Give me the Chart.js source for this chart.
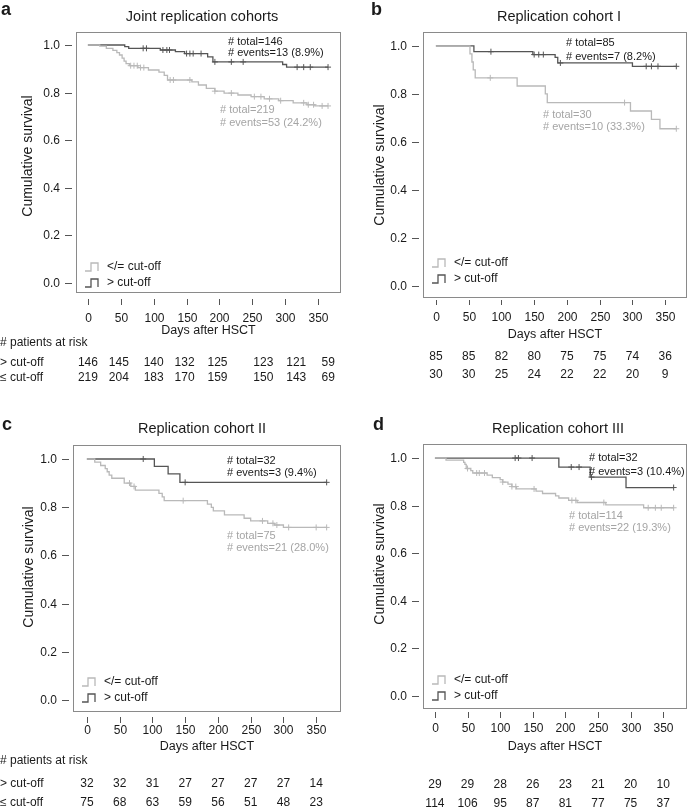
<!DOCTYPE html>
<html>
<head>
<meta charset="utf-8">
<title>Survival by cut-off</title>
<script src="https://cdn.jsdelivr.net/npm/chart.js@4.4.1/dist/chart.umd.min.js"></script>
<style>
  body { margin: 0; background: #fff; }
  #fig { position: relative; width: 692px; height: 810px; overflow: hidden; }
  #fig canvas { position: absolute; }
</style>
</head>
<body>
<div id="fig">
  <canvas id="pa"></canvas>
  <canvas id="pb"></canvas>
  <canvas id="pc"></canvas>
  <canvas id="pd"></canvas>
</div>
<script>
// ---- data ----
const dayTicks = [0, 50, 100, 150, 200, 250, 300, 350];
const survTicks = [0, 0.2, 0.4, 0.6, 0.8, 1.0];

// a: joint replication cohorts
const aHiDays = [0, 56, 62, 110, 133, 147, 182, 190, 296, 302, 365];
const aHiSurv = [1, 0.993, 0.986, 0.979, 0.972, 0.964, 0.950, 0.929, 0.918, 0.907, 0.907];
const aHiCensor = [84, 89, 114, 120, 124, 150, 155, 160, 172, 193, 218, 236, 318, 328, 338, 365];
const aLoDays = [0, 18, 28, 38, 44, 48, 52, 55, 58, 63, 76, 92, 108, 116, 121, 158, 168, 180, 193, 207, 228, 248, 268, 290, 312, 333, 345, 365];
const aLoSurv = [1, 0.995, 0.986, 0.977, 0.968, 0.958, 0.945, 0.932, 0.922, 0.913, 0.905, 0.895, 0.886, 0.872, 0.853, 0.845, 0.832, 0.818, 0.806, 0.798, 0.790, 0.783, 0.774, 0.766, 0.757, 0.749, 0.744, 0.744];
const aLoCensor = [65, 70, 75, 80, 85, 125, 130, 155, 193, 218, 253, 263, 276, 293, 328, 335, 343, 356, 365];
const aRiskHi = [146, 145, 140, 132, 125, 123, 121, 59];
const aRiskLo = [219, 204, 183, 170, 159, 150, 143, 69];

// b: replication cohort I
const bHiDays = [0, 58, 148, 182, 186, 300, 367];
const bHiSurv = [1, 0.976, 0.964, 0.952, 0.929, 0.915, 0.915];
const bHiCensor = [84, 150, 157, 164, 190, 321, 329, 339, 367];
const bLoDays = [0, 52, 55, 57, 60, 124, 167, 170, 297, 329, 342, 367];
const bLoSurv = [1, 0.967, 0.933, 0.9, 0.867, 0.833, 0.8, 0.764, 0.729, 0.694, 0.655, 0.655];
const bLoCensor = [83, 288, 367];
const bRiskHi = [85, 85, 82, 80, 75, 75, 74, 36];
const bRiskLo = [30, 30, 25, 24, 22, 22, 20, 9];

// c: replication cohort II
const cHiDays = [0, 103, 124, 142, 366];
const cHiSurv = [1, 0.969, 0.938, 0.903, 0.903];
const cHiCensor = [86, 150, 366];
const cLoDays = [0, 12, 21, 28, 31, 34, 38, 57, 67, 74, 110, 115, 118, 184, 190, 193, 210, 240, 250, 276, 286, 300, 366];
const cLoSurv = [1, 0.987, 0.973, 0.96, 0.947, 0.933, 0.92, 0.9, 0.886, 0.871, 0.857, 0.843, 0.827, 0.813, 0.799, 0.785, 0.768, 0.754, 0.743, 0.733, 0.726, 0.716, 0.716];
const cLoCensor = [65, 72, 147, 268, 284, 290, 308, 350, 366];
const cRiskHi = [32, 32, 31, 27, 27, 27, 27, 14];
const cRiskLo = [75, 68, 63, 59, 56, 51, 48, 23];

// d: replication cohort III
const dHiDays = [0, 190, 238, 293, 366];
const dHiSurv = [1, 0.962, 0.92, 0.876, 0.876];
const dHiCensor = [123, 128, 149, 209, 221, 240, 366];
const dLoDays = [0, 17, 44, 46, 48, 55, 58, 80, 88, 100, 104, 112, 118, 125, 155, 165, 185, 190, 205, 218, 262, 320, 366];
const dLoSurv = [1, 0.991, 0.982, 0.973, 0.956, 0.947, 0.937, 0.928, 0.918, 0.909, 0.899, 0.89, 0.88, 0.87, 0.861, 0.851, 0.841, 0.832, 0.822, 0.813, 0.803, 0.791, 0.791];
const dLoCensor = [50, 64, 68, 76, 104, 118, 124, 152, 210, 216, 259, 327, 338, 347, 366];
const dRiskHi = [29, 29, 28, 26, 23, 21, 20, 10];
const dRiskLo = [114, 106, 95, 87, 81, 77, 75, 37];

// ---- styling ----
const FONT = '"Liberation Sans", Arial, Helvetica, sans-serif';
const DARK = "#555555";
const LIGHT = "#b9b9b9";
const INK = "#1a1a1a";
const GREY_TXT = "#a5a5a5";

Chart.defaults.font.family = FONT;

// layout of each panel (canvas coords)
const panels = [
  {
    id: "pa", left: 0, top: 0, w: 346, h: 390,
    letter: "a", letterPos: [1, 15], title: "Joint replication cohorts", titlePos: [202, 17],
    area: { l: 76, t: 32, r: 343, b: 293 }, xr: [-18.1, 384.7], yr: [-0.042, 1.0546],
    yTitle: [28, 156], xTick: [299, 305], xLab: 318.5, xTitle: 331,
    legY: [267, 283],
    hi: [aHiDays, aHiSurv, aHiCensor], lo: [aLoDays, aLoSurv, aLoCensor],
    noteHi: { x: 228, y: [41.7, 53.3], txt: ["# total=146", "# events=13 (8.9%)"] },
    noteLo: { x: 220, y: [110, 123.3], txt: ["# total=219", "# events=53 (24.2%)"] },
    risk: [aRiskHi, aRiskLo], riskY: [363, 378], header: 343, rowLabels: true,
    riskNudge: [0, -2, 0, -2, -2, 11, 11, 10]
  },
  {
    id: "pb", left: 346, top: 0, w: 346, h: 390,
    letter: "b", letterPos: [25, 15], title: "Replication cohort I", titlePos: [213, 17],
    area: { l: 77, t: 32, r: 343, b: 298 }, xr: [-19.7, 383.3], yr: [-0.05, 1.058],
    yTitle: [34, 165], xTick: [300, 305], xLab: 318, xTitle: 335,
    legY: [263, 279],
    hi: [bHiDays, bHiSurv, bHiCensor], lo: [bLoDays, bLoSurv, bLoCensor],
    noteHi: { x: 220, y: [43.3, 56.7], txt: ["# total=85", "# events=7 (8.2%)"] },
    noteLo: { x: 197, y: [115, 126.7], txt: ["# total=30", "# events=10 (33.3%)"] },
    risk: [bRiskHi, bRiskLo], riskY: [357, 375], header: null, rowLabels: false,
    riskNudge: [0, 0, 0, 0, 0, 0, 0, 0]
  },
  {
    id: "pc", left: 0, top: 390, w: 346, h: 420,
    letter: "c", letterPos: [2, 40], title: "Replication cohort II", titlePos: [202, 39],
    area: { l: 73, t: 55, r: 343, b: 322 }, xr: [-21.2, 387.9], yr: [-0.05, 1.058],
    yTitle: [29, 177], xTick: [327, 333], xLab: 341, xTitle: 357,
    legY: [292, 308],
    hi: [cHiDays, cHiSurv, cHiCensor], lo: [cLoDays, cLoSurv, cLoCensor],
    noteHi: { x: 227, y: [70.7, 83.3], txt: ["# total=32", "# events=3 (9.4%)"] },
    noteLo: { x: 227, y: [145.7, 158.3], txt: ["# total=75", "# events=21 (28.0%)"] },
    risk: [cRiskHi, cRiskLo], riskY: [394, 413], header: 371, rowLabels: true,
    riskNudge: [0, 0, 0, 0, 0, 0, 0, 0]
  },
  {
    id: "pd", left: 346, top: 390, w: 346, h: 420,
    letter: "d", letterPos: [27, 40], title: "Replication cohort III", titlePos: [212, 39],
    area: { l: 77, t: 54, r: 343, b: 319 }, xr: [-18.3, 386.5], yr: [-0.055, 1.059],
    yTitle: [34, 174], xTick: [322, 328], xLab: 339, xTitle: 357,
    legY: [290, 306],
    hi: [dHiDays, dHiSurv, dHiCensor], lo: [dLoDays, dLoSurv, dLoCensor],
    noteHi: { x: 243, y: [68.3, 81.7], txt: ["# total=32", "# events=3 (10.4%)"] },
    noteLo: { x: 223, y: [126, 137.7], txt: ["# total=114", "# events=22 (19.3%)"] },
    risk: [dRiskHi, dRiskLo], riskY: [395, 414], header: null, rowLabels: false,
    riskNudge: [0, 0, 0, 0, 0, 0, 0, 0]
  }
];

// value of the step curve at a censoring time
function survAt(days, surv, t) {
  let s = surv[0];
  for (let i = 0; i < days.length; i++) {
    if (days[i] <= t) s = surv[i];
  }
  return s;
}

function stepSet(label, days, surv, color) {
  return {
    label,
    data: days.map((d, i) => ({ x: d, y: surv[i] })),
    stepped: "before", // horizontal first, then drop at the event time
    borderColor: color,
    borderWidth: 1.3,
    pointRadius: 0,
    fill: false
  };
}

function censorSet(days, surv, cens, color) {
  return {
    label: "censored",
    data: cens.map(t => ({ x: t, y: survAt(days, surv, t) })),
    showLine: false,
    pointStyle: "cross",
    pointRadius: 3,
    borderColor: color,
    borderWidth: 1,
    backgroundColor: color
  };
}

function decorPlugin(p) {
  return {
    id: "kmDecor",
    afterDraw(chart) {
      const ctx = chart.ctx;
      const { left, top, right, bottom } = chart.chartArea;
      const xs = chart.scales.x, ys = chart.scales.y;
      ctx.save();

      // frame
      ctx.strokeStyle = "#8a8a8a";
      ctx.lineWidth = 1;
      ctx.strokeRect(left + 0.5, top + 0.5, right - left - 1, bottom - top - 1);

      // axis ticks and labels
      ctx.strokeStyle = "#555";
      ctx.fillStyle = INK;
      ctx.font = "12px " + FONT;
      ctx.textBaseline = "middle";
      ctx.textAlign = "right";
      for (const v of survTicks) {
        const y = Math.round(ys.getPixelForValue(v)) + 0.5;
        ctx.beginPath();
        ctx.moveTo(left - 11, y);
        ctx.lineTo(left - 4, y);
        ctx.stroke();
        ctx.fillText(v.toFixed(1), left - 16, y);
      }
      ctx.textAlign = "center";
      for (const v of dayTicks) {
        const x = Math.round(xs.getPixelForValue(v)) + 0.5;
        ctx.beginPath();
        ctx.moveTo(x, p.xTick[0]);
        ctx.lineTo(x, p.xTick[1]);
        ctx.stroke();
        ctx.fillText(String(v), x, p.xLab);
      }

      // axis titles
      ctx.font = "12.5px " + FONT;
      ctx.fillText("Days after HSCT", (left + right) / 2, p.xTitle);
      ctx.save();
      ctx.translate(p.yTitle[0], p.yTitle[1]);
      ctx.rotate(-Math.PI / 2);
      ctx.font = "14px " + FONT;
      ctx.fillText("Cumulative survival", 0, 0);
      ctx.restore();

      // panel letter and title
      ctx.textAlign = "left";
      ctx.textBaseline = "alphabetic";
      ctx.font = "bold 18px " + FONT;
      ctx.fillText(p.letter, p.letterPos[0], p.letterPos[1]);
      ctx.textAlign = "center";
      ctx.textBaseline = "middle";
      ctx.font = "14.5px " + FONT;
      ctx.fillText(p.title, p.titlePos[0], p.titlePos[1]);

      // group annotations
      ctx.textAlign = "left";
      ctx.font = "11px " + FONT;
      ctx.fillStyle = INK;
      p.noteHi.txt.forEach((t, i) => ctx.fillText(t, p.noteHi.x, p.noteHi.y[i]));
      ctx.fillStyle = GREY_TXT;
      p.noteLo.txt.forEach((t, i) => ctx.fillText(t, p.noteLo.x, p.noteLo.y[i]));

      // legend (step glyphs)
      const legend = [["</= cut-off", LIGHT], ["> cut-off", DARK]];
      legend.forEach(([txt, col], i) => {
        const y = p.legY[i];
        const x0 = left + 9;
        ctx.strokeStyle = col;
        ctx.lineWidth = 1.3;
        ctx.beginPath();
        ctx.moveTo(x0, y + 4);
        ctx.lineTo(x0 + 6, y + 4);
        ctx.lineTo(x0 + 6, y - 4);
        ctx.lineTo(x0 + 13, y - 4);
        ctx.lineTo(x0 + 13, y + 4);
        ctx.stroke();
        ctx.fillStyle = INK;
        ctx.font = "12px " + FONT;
        ctx.fillText(txt, left + 31, y);
      });

      // numbers at risk
      ctx.font = "12px " + FONT;
      ctx.fillStyle = INK;
      if (p.header !== null) {
        ctx.textAlign = "left";
        ctx.fillText("# patients at risk", 0, p.header);
      }
      if (p.rowLabels) {
        ctx.textAlign = "left";
        ctx.fillText("> cut-off", 0, p.riskY[0]);
        ctx.fillText("\u2264 cut-off", 0, p.riskY[1]);
      }
      ctx.textAlign = "center";
      p.risk.forEach((row, r) => {
        row.forEach((n, i) => {
          const x = xs.getPixelForValue(dayTicks[i]) + p.riskNudge[i];
          ctx.fillText(String(n), x, p.riskY[r]);
        });
      });

      ctx.restore();
    }
  };
}

function makePanel(p) {
  const canvas = document.getElementById(p.id);
  canvas.width = p.w;
  canvas.height = p.h;
  canvas.style.left = p.left + "px";
  canvas.style.top = p.top + "px";
  canvas.style.width = p.w + "px";
  canvas.style.height = p.h + "px";

  const [hiD, hiS, hiC] = p.hi;
  const [loD, loS, loC] = p.lo;

  return new Chart(canvas, {
    type: "line",
    data: {
      datasets: [
        stepSet("</= cut-off", loD, loS, LIGHT),
        censorSet(loD, loS, loC, LIGHT),
        stepSet("> cut-off", hiD, hiS, DARK),
        censorSet(hiD, hiS, hiC, DARK)
      ]
    },
    options: {
      responsive: false,
      animation: false,
      devicePixelRatio: 1,
      layout: {
        padding: { left: 0, top: p.area.t, right: p.w - p.area.r, bottom: 0 }
      },
      plugins: {
        legend: { display: false },
        tooltip: { enabled: false },
        title: { display: false }
      },
      scales: {
        x: {
          type: "linear",
          min: p.xr[0],
          max: p.xr[1],
          grid: { display: false },
          border: { display: false },
          ticks: { display: false },
          afterFit(s) { s.height = p.h - p.area.b; }
        },
        y: {
          type: "linear",
          min: p.yr[0],
          max: p.yr[1],
          grid: { display: false },
          border: { display: false },
          ticks: { display: false },
          afterFit(s) { s.width = p.area.l; }
        }
      }
    },
    plugins: [decorPlugin(p)]
  });
}

window.addEventListener("DOMContentLoaded", () => {
  panels.forEach(makePanel);
});
</script>
</body>
</html>
